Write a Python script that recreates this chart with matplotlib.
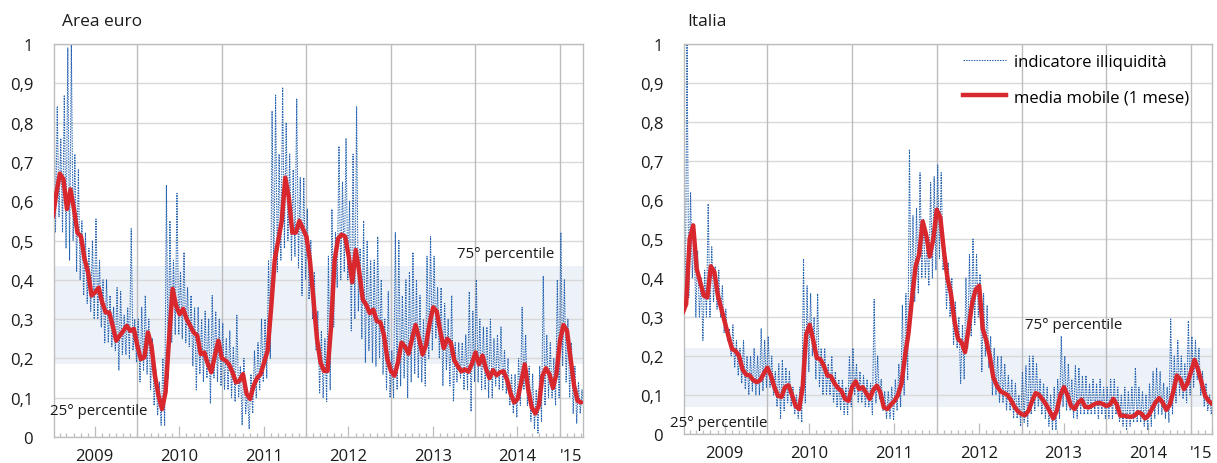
import numpy as np
import pandas as pd
import matplotlib
matplotlib.use('Agg')
import matplotlib.pyplot as plt
import matplotlib.dates as mdates
import matplotlib.ticker as ticker
from matplotlib.lines import Line2D

plt.rcParams['font.family'] = ['Open Sans', 'DejaVu Sans']
plt.rcParams['font.size'] = 12

# half-month steps starting 1 Jan 2009 (k = 0 .. 150)
# illiquidity indicator: upper / lower swing inside each half month
euro_hi = [0.97, 0.84, 0.76, 0.87, 0.99, 1.0, 0.72, 0.68, 0.55, 0.52,
           0.48, 0.50, 0.555, 0.45, 0.40, 0.40, 0.36, 0.33, 0.38, 0.37,
           0.31, 0.33, 0.53, 0.30, 0.30, 0.33, 0.36, 0.30, 0.25, 0.17,
           0.14, 0.20, 0.64, 0.55, 0.45, 0.62, 0.42, 0.47, 0.38, 0.36,
           0.33, 0.33, 0.30, 0.32, 0.30, 0.36, 0.32, 0.30, 0.29, 0.25,
           0.27, 0.23, 0.31, 0.18, 0.20, 0.12, 0.16, 0.22, 0.24, 0.30,
           0.30, 0.45, 0.83, 0.87, 0.72, 0.89, 0.80, 0.72, 0.68, 0.86,
           0.66, 0.66, 0.58, 0.50, 0.42, 0.32, 0.27, 0.25, 0.46, 0.58,
           0.52, 0.74, 0.65, 0.76, 0.60, 0.72, 0.84, 0.48, 0.55, 0.50,
           0.45, 0.45, 0.51, 0.40, 0.30, 0.37, 0.22, 0.52, 0.50, 0.36,
           0.40, 0.42, 0.47, 0.40, 0.36, 0.30, 0.46, 0.51, 0.46, 0.38,
           0.38, 0.34, 0.30, 0.36, 0.24, 0.24, 0.24, 0.26, 0.37, 0.32,
           0.40, 0.30, 0.28, 0.28, 0.30, 0.25, 0.26, 0.28, 0.22, 0.20,
           0.16, 0.16, 0.20, 0.33, 0.26, 0.18, 0.16, 0.12, 0.18, 0.41,
           0.26, 0.24, 0.20, 0.40, 0.52, 0.40, 0.30, 0.24, 0.18, 0.14,
           0.12]
euro_lo = [0.52, 0.56, 0.52, 0.48, 0.45, 0.50, 0.42, 0.40, 0.36, 0.34,
           0.32, 0.30, 0.30, 0.28, 0.24, 0.24, 0.23, 0.22, 0.17, 0.21,
           0.21, 0.20, 0.22, 0.19, 0.14, 0.17, 0.16, 0.12, 0.08, 0.055,
           0.03, 0.03, 0.15, 0.24, 0.26, 0.26, 0.25, 0.24, 0.23, 0.18,
           0.12, 0.16, 0.14, 0.15, 0.085, 0.15, 0.14, 0.13, 0.12, 0.12,
           0.10, 0.09, 0.10, 0.03, 0.06, 0.02, 0.06, 0.10, 0.12, 0.14,
           0.15, 0.20, 0.40, 0.42, 0.45, 0.48, 0.50, 0.45, 0.46, 0.43,
           0.36, 0.40, 0.35, 0.30, 0.22, 0.11, 0.10, 0.09, 0.12, 0.28,
           0.38, 0.40, 0.42, 0.40, 0.27, 0.30, 0.32, 0.25, 0.19, 0.22,
           0.19, 0.18, 0.20, 0.16, 0.12, 0.10, 0.10, 0.12, 0.13, 0.15,
           0.10, 0.14, 0.16, 0.15, 0.14, 0.13, 0.20, 0.22, 0.25, 0.20,
           0.13, 0.17, 0.13, 0.09, 0.14, 0.15, 0.12, 0.12, 0.065, 0.14,
           0.14, 0.12, 0.12, 0.10, 0.10, 0.13, 0.12, 0.12, 0.11, 0.08,
           0.06, 0.05, 0.08, 0.12, 0.08, 0.04, 0.02, 0.01, 0.04, 0.08,
           0.10, 0.10, 0.08, 0.10, 0.18, 0.14, 0.10, 0.06, 0.035, 0.06,
           0.07]
# one-month moving average
euro_ma = [0.56, 0.62, 0.67, 0.656, 0.58, 0.63, 0.58, 0.52, 0.51, 0.453,
           0.419, 0.36, 0.368, 0.38, 0.343, 0.317, 0.317, 0.283, 0.245, 0.258,
           0.27, 0.283, 0.27, 0.275, 0.232, 0.198, 0.203, 0.266, 0.232, 0.156,
           0.105, 0.071, 0.114, 0.249, 0.377, 0.334, 0.312, 0.326, 0.30, 0.283,
           0.266, 0.258, 0.211, 0.215, 0.186, 0.165, 0.207, 0.245, 0.20, 0.195,
           0.185, 0.165, 0.139, 0.143, 0.16, 0.11, 0.097, 0.13, 0.15, 0.16,
           0.19, 0.22, 0.33, 0.45, 0.50, 0.55, 0.66, 0.61, 0.52, 0.52,
           0.55, 0.53, 0.51, 0.45, 0.35, 0.25, 0.19, 0.168, 0.168, 0.28,
           0.45, 0.505, 0.515, 0.51, 0.46, 0.394, 0.476, 0.42, 0.35, 0.336,
           0.315, 0.324, 0.295, 0.292, 0.26, 0.198, 0.168, 0.156, 0.19, 0.24,
           0.23, 0.212, 0.25, 0.285, 0.25, 0.21, 0.235, 0.29, 0.33, 0.32,
           0.27, 0.226, 0.25, 0.24, 0.195, 0.18, 0.167, 0.172, 0.166, 0.186,
           0.215, 0.185, 0.207, 0.173, 0.15, 0.17, 0.157, 0.165, 0.167, 0.145,
           0.11, 0.088, 0.097, 0.14, 0.185, 0.12, 0.075, 0.06, 0.08, 0.155,
           0.175, 0.16, 0.125, 0.16, 0.245, 0.285, 0.27, 0.20, 0.131, 0.092,
           0.088]

ita_hi = [0.50, 1.0, 0.62, 0.52, 0.47, 0.40, 0.42, 0.59, 0.48, 0.43,
          0.42, 0.38, 0.32, 0.27, 0.28, 0.24, 0.22, 0.24, 0.20, 0.20,
          0.22, 0.20, 0.27, 0.24, 0.25, 0.20, 0.16, 0.18, 0.19, 0.17,
          0.16, 0.12, 0.10, 0.12, 0.45, 0.38, 0.36, 0.30, 0.36, 0.22,
          0.22, 0.18, 0.20, 0.16, 0.14, 0.14, 0.12, 0.20, 0.22, 0.18,
          0.16, 0.15, 0.14, 0.13, 0.345, 0.20, 0.14, 0.11, 0.11, 0.12,
          0.14, 0.18, 0.33, 0.36, 0.73, 0.56, 0.58, 0.67, 0.55, 0.50,
          0.645, 0.66, 0.69, 0.67, 0.48, 0.44, 0.40, 0.34, 0.30, 0.28,
          0.40, 0.46, 0.50, 0.46, 0.41, 0.36, 0.33, 0.25, 0.22, 0.20,
          0.20, 0.18, 0.15, 0.14, 0.13, 0.10, 0.16, 0.175, 0.20, 0.20,
          0.18, 0.14, 0.13, 0.12, 0.10, 0.12, 0.14, 0.25, 0.20, 0.18,
          0.14, 0.175, 0.17, 0.15, 0.15, 0.13, 0.14, 0.13, 0.14, 0.12,
          0.12, 0.14, 0.14, 0.12, 0.10, 0.12, 0.11, 0.12, 0.17, 0.12,
          0.11, 0.10, 0.13, 0.16, 0.17, 0.16, 0.13, 0.12, 0.295, 0.20,
          0.24, 0.20, 0.18, 0.29, 0.25, 0.24, 0.22, 0.16, 0.13, 0.10,
          0.10]
ita_lo = [0.33, 0.35, 0.40, 0.30, 0.30, 0.24, 0.30, 0.30, 0.34, 0.32,
          0.30, 0.26, 0.24, 0.20, 0.17, 0.15, 0.13, 0.115, 0.10, 0.11,
          0.10, 0.10, 0.11, 0.12, 0.12, 0.10, 0.07, 0.04, 0.06, 0.08,
          0.07, 0.05, 0.04, 0.03, 0.08, 0.16, 0.20, 0.14, 0.12, 0.10,
          0.10, 0.10, 0.08, 0.07, 0.06, 0.05, 0.05, 0.07, 0.10, 0.08,
          0.08, 0.07, 0.07, 0.05, 0.08, 0.09, 0.06, 0.04, 0.04, 0.035,
          0.06, 0.07, 0.10, 0.14, 0.30, 0.34, 0.36, 0.40, 0.40, 0.38,
          0.40, 0.42, 0.45, 0.42, 0.32, 0.30, 0.23, 0.22, 0.13, 0.14,
          0.22, 0.25, 0.28, 0.30, 0.16, 0.20, 0.17, 0.10, 0.10, 0.08,
          0.08, 0.06, 0.06, 0.04, 0.04, 0.02, 0.03, 0.02, 0.05, 0.06,
          0.07, 0.05, 0.04, 0.02, 0.01, 0.01, 0.04, 0.07, 0.06, 0.06,
          0.04, 0.04, 0.05, 0.05, 0.05, 0.05, 0.05, 0.04, 0.05, 0.04,
          0.04, 0.04, 0.05, 0.03, 0.02, 0.01, 0.02, 0.03, 0.03, 0.03,
          0.02, 0.01, 0.02, 0.04, 0.05, 0.05, 0.04, 0.03, 0.05, 0.08,
          0.10, 0.09, 0.08, 0.10, 0.12, 0.14, 0.10, 0.07, 0.06, 0.05,
          0.06]
ita_ma = [0.31, 0.333, 0.50, 0.535, 0.423, 0.389, 0.355, 0.35, 0.43, 0.415,
          0.355, 0.32, 0.286, 0.25, 0.218, 0.213, 0.20, 0.165, 0.152, 0.15,
          0.138, 0.133, 0.138, 0.155, 0.17, 0.15, 0.12, 0.098, 0.095, 0.12,
          0.125, 0.10, 0.072, 0.064, 0.12, 0.255, 0.28, 0.24, 0.195, 0.192,
          0.175, 0.15, 0.148, 0.13, 0.118, 0.11, 0.09, 0.085, 0.12, 0.135,
          0.115, 0.12, 0.105, 0.09, 0.113, 0.124, 0.107, 0.068, 0.064, 0.075,
          0.085, 0.10, 0.13, 0.20, 0.26, 0.35, 0.43, 0.46, 0.545, 0.51,
          0.455, 0.50, 0.575, 0.555, 0.47, 0.40, 0.36, 0.29, 0.244, 0.235,
          0.21, 0.27, 0.335, 0.37, 0.38, 0.27, 0.24, 0.20, 0.145, 0.124,
          0.11, 0.105, 0.10, 0.087, 0.07, 0.058, 0.051, 0.048, 0.06, 0.085,
          0.105, 0.10, 0.088, 0.075, 0.058, 0.04, 0.06, 0.10, 0.12, 0.10,
          0.072, 0.064, 0.08, 0.088, 0.07, 0.068, 0.073, 0.078, 0.08, 0.077,
          0.072, 0.075, 0.09, 0.075, 0.047, 0.047, 0.045, 0.044, 0.047, 0.056,
          0.052, 0.04, 0.048, 0.065, 0.082, 0.092, 0.08, 0.062, 0.075, 0.11,
          0.15, 0.14, 0.115, 0.13, 0.16, 0.19, 0.165, 0.132, 0.098, 0.085,
          0.077]

# 25th / 75th percentile band
euro_band = (0.186, 0.435)
ita_band = (0.069, 0.22)

year_labels = ['2009', '2010', '2011', '2012', '2013', '2014']

start = pd.Timestamp('2009-01-01')
half = 365.25 / 24

blue_c = '#2562b0'
red_c = '#d8282e'
grid_c = '#d9d9d9'
vgrid_c = '#bdbdbd'
band_c = '#edf2f9'
blue_ls = (0, (1.4, 1.1))

W, H = 1217, 464
fig = plt.figure(figsize=(W / 100, H / 100), dpi=100)

panels = [
    dict(title='Area euro', hi=euro_hi, lo=euro_lo, ma=euro_ma, band=euro_band,
         box=(54, 45, 583, 438), xlim=('2009-01-06', '2015-04-11'),
         title_x=62, p75=(0.762, 0.458), p25=(-0.008, 0.058), legend=False),
    dict(title='Italia', hi=ita_hi, lo=ita_lo, ma=ita_ma, band=ita_band,
         box=(684, 45, 1212, 435), xlim=('2009-01-07', '2015-04-02'),
         title_x=687, p75=(0.646, 0.272), p25=(-0.027, 0.02), legend=True),
]

for p in panels:
    x0, y0, x1, y1 = p['box']
    ax = fig.add_axes([x0 / W, 1 - y1 / H, (x1 - x0) / W, (y1 - y0) / H])

    n = len(p['ma'])
    ma_dates = start + pd.to_timedelta(np.arange(n) * half, unit='D')
    blue_vals = np.column_stack([p['hi'], p['lo']]).ravel()
    blue_dates = start + pd.to_timedelta((np.arange(2 * n) * 0.5 + 0.25) * half, unit='D')

    ax.axhspan(p['band'][0], p['band'][1], color=band_c, lw=0, zorder=0.2)
    for yr in pd.date_range('2010-01-01', '2015-01-01', freq='YS'):
        ax.axvline(yr, color=vgrid_c, lw=1.0, zorder=0.6)

    ax.plot(blue_dates, blue_vals, color=blue_c, lw=0.75, linestyle=blue_ls,
            zorder=2, label='indicatore illiquidità')
    ax.plot(ma_dates, p['ma'], color=red_c, lw=3.2, solid_capstyle='round',
            solid_joinstyle='round', zorder=3, label='media mobile (1 mese)')

    lo_lim, hi_lim = pd.Timestamp(p['xlim'][0]), pd.Timestamp(p['xlim'][1])
    ax.set_xlim(lo_lim, hi_lim)
    ax.set_ylim(0, 1)

    ax.set_yticks(np.arange(0, 1.01, 0.1))
    ax.yaxis.set_major_formatter(ticker.FuncFormatter(
        lambda v, pos: '0' if abs(v) < 1e-9 else ('1' if abs(v - 1) < 1e-9
                                                 else ('%.1f' % v).replace('.', ','))))
    ax.grid(axis='y', color=grid_c, lw=1.0)
    ax.set_axisbelow(True)

    mid_years = [pd.Timestamp('%s-07-01' % y) for y in year_labels]
    ax.set_xticks(mid_years)
    ax.set_xticklabels(year_labels)
    ax.xaxis.set_minor_locator(mdates.MonthLocator())
    ax.tick_params(axis='x', which='major', direction='in', length=8, width=0.9,
                   color=vgrid_c, pad=8, labelsize=12, labelcolor='#1a1a1a')
    ax.tick_params(axis='x', which='minor', direction='in', length=3, width=0.9,
                   color=vgrid_c)
    ax.tick_params(axis='y', length=0, pad=15, labelsize=12, labelcolor='#1a1a1a')

    # '15 label centred in the visible part of 2015
    x15 = pd.Timestamp('2015-01-01') + (hi_lim - pd.Timestamp('2015-01-01')) / 2
    ax.annotate("'15", xy=(mdates.date2num(x15), 0), xycoords=('data', 'axes fraction'),
                xytext=(0, -8), textcoords='offset points', ha='center', va='top',
                fontsize=12, color='#1a1a1a')

    for s in ax.spines.values():
        s.set_color(vgrid_c)
        s.set_linewidth(1.0)

    tr = ax.get_yaxis_transform()
    ax.text(p['p75'][0], p['p75'][1], '75° percentile', transform=tr,
            fontsize=10.8, color='#1a1a1a', va='baseline', ha='left')
    ax.text(p['p25'][0], p['p25'][1], '25° percentile', transform=tr,
            fontsize=10.8, color='#1a1a1a', va='baseline', ha='left', clip_on=False)

    fig.text(p['title_x'] / W, 1 - 26 / H, p['title'], fontsize=12.5,
             color='#1a1a1a', va='baseline', ha='left')

    if p['legend']:
        handles = [Line2D([], [], color=blue_c, lw=0.75, linestyle=blue_ls),
                   Line2D([], [], color=red_c, lw=3.2)]
        fig.legend(handles, ['indicatore illiquidità', 'media mobile (1 mese)'],
                   loc='upper left', bbox_to_anchor=(963 / W, 1 - 55 / H),
                   bbox_transform=fig.transFigure, frameon=False, fontsize=12,
                   handlelength=2.6, handletextpad=0.45, labelspacing=1.15,
                   borderpad=0, borderaxespad=0)

fig.savefig('out.png', dpi=100)
